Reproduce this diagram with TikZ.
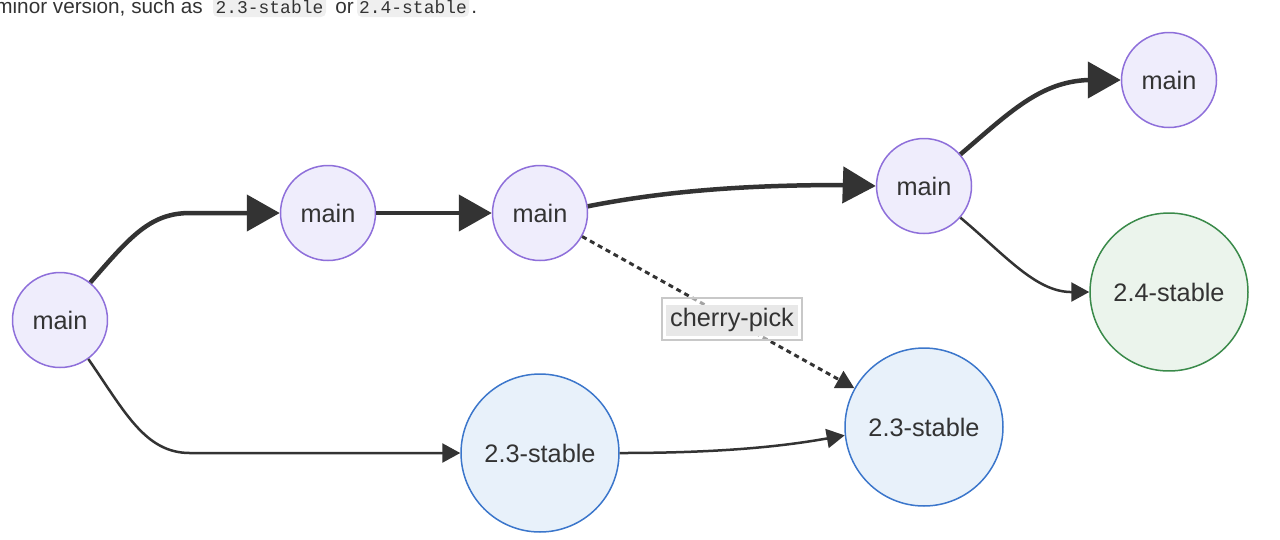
\documentclass[tikz,border=0pt]{standalone}
\usepackage{fontspec}
\setmainfont{Liberation Sans}
\setmonofont{Liberation Mono}
\usetikzlibrary{arrows.meta}
\definecolor{edgec}{HTML}{333333}
\definecolor{txt}{HTML}{333333}
\definecolor{mainfill}{HTML}{EFEDFC}
\definecolor{mainstroke}{HTML}{8E6FDA}
\definecolor{bluefill}{HTML}{E8F1FA}
\definecolor{bluestroke}{HTML}{3B76CB}
\definecolor{greenfill}{HTML}{EBF4EC}
\definecolor{greenstroke}{HTML}{3A8A4A}
\definecolor{codebg}{HTML}{EFEFEF}
\definecolor{lblbg}{HTML}{E8E8E8}
\definecolor{lblborder}{HTML}{C8C8C8}
\begin{document}
\begin{tikzpicture}[x=0.02cm,y=-0.02cm,
  lbl/.style={font=\fontsize{14.4}{17}\selectfont, text=txt},
  gitnode/.style={circle, line width=0.03cm, inner sep=0, lbl},
  mainnode/.style={gitnode, draw=mainstroke, fill=mainfill, minimum size=1.9cm},
  bluenode/.style={gitnode, draw=bluestroke, fill=bluefill, minimum size=3.16cm},
  greennode/.style={gitnode, draw=greenstroke, fill=greenfill, minimum size=3.16cm},
  thickedge/.style={draw=edgec, line width=0.09cm, -{Triangle[length=0.66cm,width=0.72cm]}},
  thinedge/.style={draw=edgec, line width=0.05cm, -{Triangle[length=0.36cm,width=0.38cm]}},
  dotedge/.style={draw=edgec, line width=0.06cm, dash pattern=on 0.1cm off 0.08cm, -{Triangle[length=0.36cm,width=0.38cm]}},
  toptext/.style={anchor=base west, inner sep=0, text=txt, font=\fontsize{11.8}{14}\selectfont},
  codetext/.style={anchor=base, inner sep=0, text=txt, font=\ttfamily\fontsize{10.2}{12}\selectfont}
]
\useasboundingbox (0,0) rectangle (1280,539);

% top (cut-off) text line
\fill[codebg, rounded corners=0.1cm] (213,-16) rectangle (326,17);
\fill[codebg, rounded corners=0.1cm] (357,-16) rectangle (469,17);
\node[toptext] (t1) at (-5,13) {minor version, such as};
\node[codetext] (t2) at (269.5,13) {2.3-stable};
\node[toptext] (t3) at (335,13) {or};
\node[codetext] (t4) at (413,13) {2.4-stable};
\node[toptext] (t5) at (471,13) {.};

% nodes
\node[mainnode] (m1) at (60,320) {main};
\node[mainnode] (m2) at (328,213) {main};
\node[mainnode] (m3) at (540,213) {main};
\node[mainnode] (m4) at (924,186) {main};
\node[mainnode] (m5) at (1169,80) {main};
\node[bluenode] (s23a) at (540,453) {2.3-stable};
\node[bluenode] (s23b) at (924,427) {2.3-stable};
\node[greennode] (s24) at (1169,292) {2.4-stable};

% edges
\draw[thickedge] (m1.51) .. controls (130,237) and (150,213) .. (190,213) -- (m2.west);
\draw[thickedge] (m2.east) -- (m3.west);
\draw[thickedge] (m3.8) .. controls (680,188) and (770,185) .. (845,185) -- (m4.west);
\draw[thickedge] (m4.41) .. controls (1010,112) and (1040,82) .. (1088,80) -- (m5.west);
\draw[thinedge] (m4.-41) .. controls (1005,255) and (1035,291) .. (1070,292) -- (s24.west);
\draw[thinedge] (m1.-54) .. controls (125,412) and (145,453) .. (190,453) -- (s23a.west);
\draw[thinedge] (s23a.east) .. controls (730,453) and (790,445) .. (s23b.186);
\draw[dotedge] (m3) -- (s23b);

% cherry-pick label
\node[draw=lblborder, line width=0.03cm, fill=white, fill opacity=0.55, minimum width=2.8cm, minimum height=0.84cm, inner sep=0] (cpbox) at (732,319) {};
\node[fill=lblbg, minimum width=2.64cm, minimum height=0.62cm, inner sep=0, lbl] (cp) at (732,320) {cherry-pick};
\end{tikzpicture}
\end{document}
